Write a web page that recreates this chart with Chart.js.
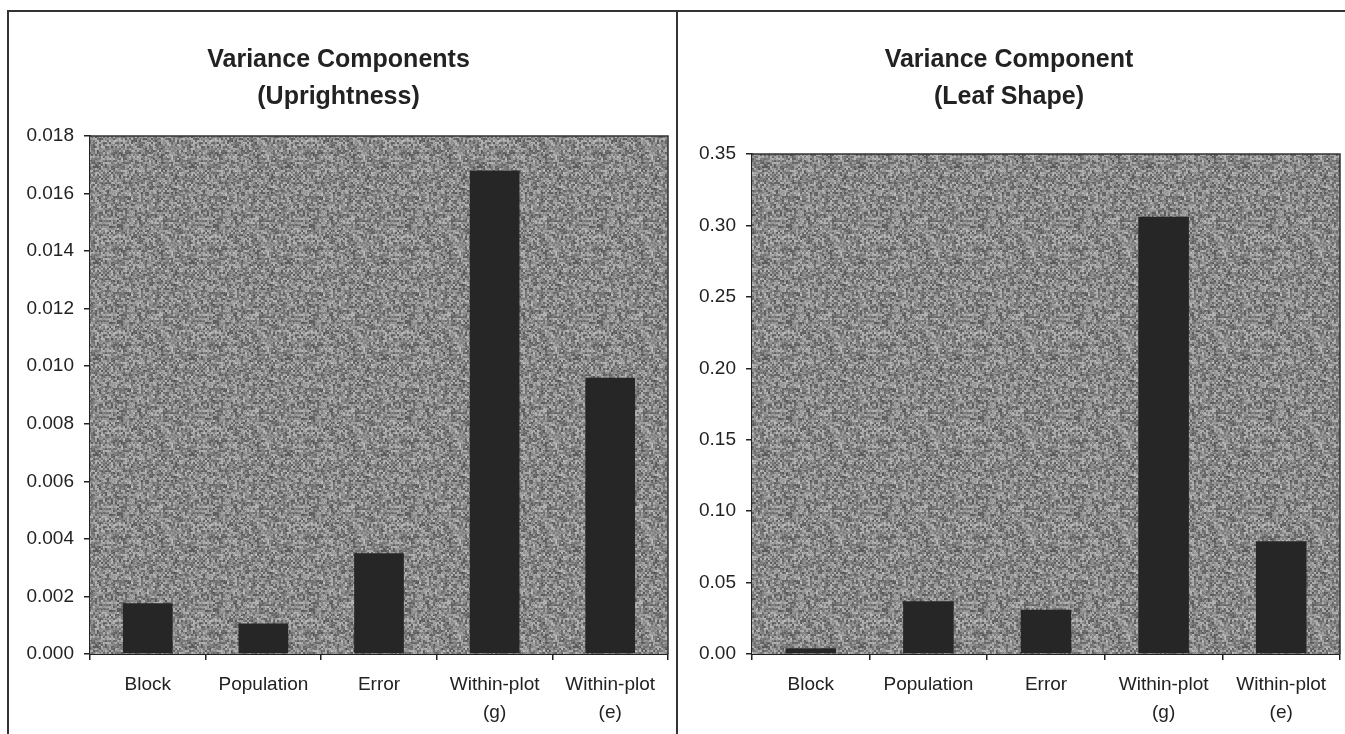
<!DOCTYPE html>
<html>
<head>
<meta charset="utf-8">
<script src="https://cdn.jsdelivr.net/npm/chart.js@4"></script>
<style>
    html, body { margin: 0; padding: 0; background: #fff; }
    body { width: 1345px; height: 734px; position: relative; overflow: hidden; }
    .frame { position: absolute; background: #333; }
    .panel { position: absolute; top: 12px; height: 722px; }
</style>
</head>
<body>
<div class="frame" style="left:7px; top:10px; width:1338px; height:2px;"></div>
<div class="frame" style="left:7px; top:10px; width:2px; height:724px;"></div>
<div class="frame" style="left:676px; top:10px; width:2px; height:724px;"></div>

<div class="panel" style="left:9px; width:667px;"><canvas id="upright-chart"></canvas></div>
<div class="panel" style="left:678px; width:667px;"><canvas id="leaf-chart"></canvas></div>

<script>
// Variance components - two bar panels

const categories = ['Block', 'Population', 'Error', ['Within-plot', '(g)'], ['Within-plot', '(e)']];
const uprightness = [0.00176, 0.00106, 0.0035, 0.0168, 0.0096];
const leafShape = [0.004, 0.037, 0.031, 0.306, 0.079];
const uprightTicks = { max: 0.018, step: 0.002, digits: 3 };
const leafTicks = { max: 0.35, step: 0.05, digits: 2 };

const FONT = 'Arial, "Liberation Sans", sans-serif';

// speckled grey texture for the plot area (deterministic hash, not data)
function makeTexture() {
    const size = 96;
    const c = document.createElement('canvas');
    c.width = size;
    c.height = size;
    const g = c.getContext('2d');
    const img = g.createImageData(size, size);
    for (let y = 0; y < size; y++) {
        for (let x = 0; x < size; x++) {
            const cx = x >> 1, cy = y >> 1;
            let h = (cx * 374761393 + cy * 668265263) >>> 0;
            h = ((h ^ (h >>> 13)) * 1274126177) >>> 0;
            let k = ((x * 2654435761) ^ (y * 40503)) >>> 0;
            k = ((k ^ (k >>> 15)) * 2246822519) >>> 0;
            const v = 78 + ((h >>> 8) % 90) + ((k >>> 9) % 30);
            const i = (y * size + x) * 4;
            img.data[i] = v;
            img.data[i + 1] = v;
            img.data[i + 2] = v;
            img.data[i + 3] = 255;
        }
    }
    g.putImageData(img, 0, 0);
    return c;
}
const texture = makeTexture();

const plotBackground = {
    id: 'plotBackground',
    beforeDatasetsDraw(chart) {
        const { ctx, chartArea: a } = chart;
        ctx.save();
        ctx.fillStyle = ctx.createPattern(texture, 'repeat');
        ctx.fillRect(a.left, a.top, a.right - a.left, a.bottom - a.top);
        ctx.strokeStyle = '#333';
        ctx.lineWidth = 1.5;
        ctx.beginPath();
        ctx.moveTo(a.left, a.top);
        ctx.lineTo(a.right, a.top);
        ctx.lineTo(a.right, a.bottom);
        ctx.stroke();
        ctx.restore();
    }
};

function buildChart(id, title, values, yt, axisWidth, titleGap, rightPad) {
    const ctx = document.getElementById(id).getContext('2d');
    return new Chart(ctx, {
        type: 'bar',
        data: {
            labels: categories,
            datasets: [{
                data: values,
                backgroundColor: '#262626',
                borderWidth: 0,
                categoryPercentage: 1,
                barPercentage: 0.43
            }]
        },
        options: {
            responsive: true,
            maintainAspectRatio: false,
            animation: false,
            layout: { padding: { left: 0, right: rightPad, top: 0, bottom: 0 } },
            plugins: {
                legend: { display: false },
                tooltip: { enabled: false },
                title: {
                    display: true,
                    text: title,
                    color: '#222',
                    font: { family: FONT, size: 25, weight: 'bold', lineHeight: 1.48 },
                    padding: { top: 29.5, bottom: titleGap }
                }
            },
            scales: {
                x: {
                    grid: {
                        offset: true,
                        drawOnChartArea: false,
                        color: '#222',
                        tickLength: 6,
                        lineWidth: 1.5
                    },
                    border: { color: '#222', width: 2 },
                    ticks: {
                        color: '#222',
                        maxRotation: 0,
                        autoSkip: false,
                        padding: 11,
                        font: { family: FONT, size: 19, lineHeight: 1.47 }
                    },
                    afterFit: (scale) => { scale.height = 80; }
                },
                y: {
                    min: 0,
                    max: yt.max,
                    grid: {
                        drawOnChartArea: false,
                        color: '#222',
                        tickLength: 6,
                        lineWidth: 1.5
                    },
                    border: { color: '#222', width: 2 },
                    ticks: {
                        stepSize: yt.step,
                        color: '#222',
                        padding: 10,
                        font: { family: FONT, size: 19 },
                        callback: (v) => Number(v).toFixed(yt.digits)
                    },
                    afterFit: (scale) => { scale.width = axisWidth; }
                }
            }
        },
        plugins: [plotBackground]
    });
}

buildChart('upright-chart', ['Variance Components', '(Uprightness)'], uprightness, uprightTicks, 81, 20.5, 8);
buildChart('leaf-chart', ['Variance Component', '(Leaf Shape)'], leafShape, leafTicks, 74, 38.5, 5);
</script>
</body>
</html>
